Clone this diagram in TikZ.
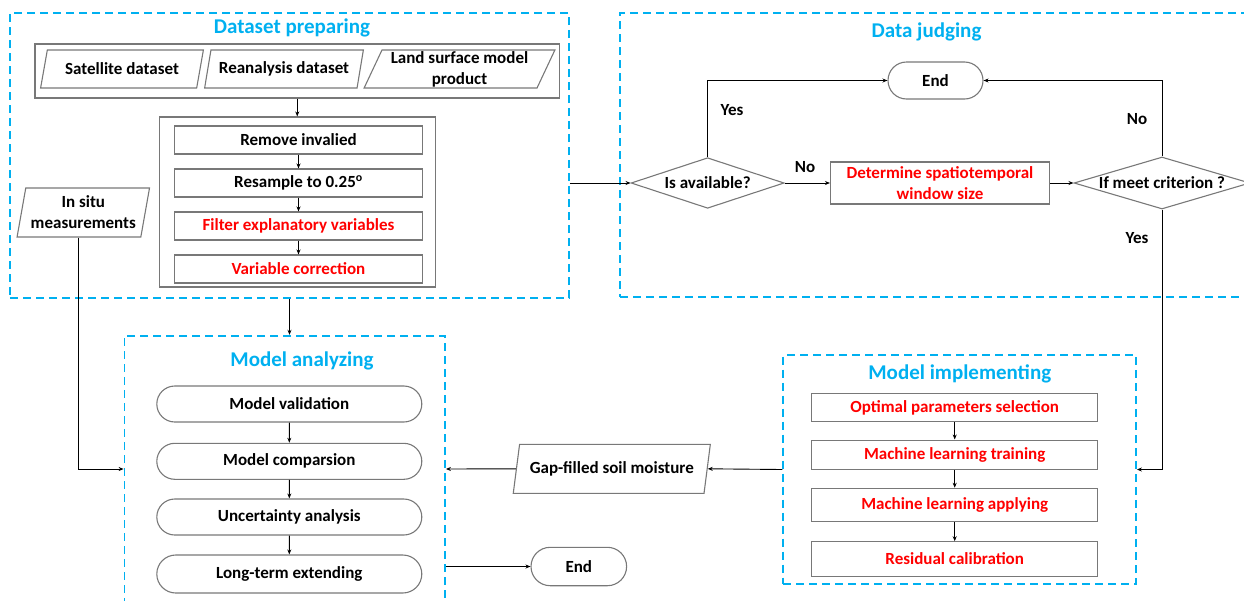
\documentclass[tikz,border=0pt]{standalone}
\usepackage{fontspec}
\setmainfont{Carlito}
\usetikzlibrary{shapes.geometric,shapes.misc,arrows.meta,calc}
\definecolor{titleblue}{RGB}{0,176,240}
\definecolor{hotred}{RGB}{255,0,0}
\definecolor{edgegray}{RGB}{120,120,120}
\tikzset{
  txt/.style={font=\fontsize{17}{21}\selectfont\bfseries},
  grp/.style={draw=titleblue, line width=1.8pt, dash pattern=on 8pt off 5pt, inner sep=0pt},
  grptitle/.style={text=titleblue, font=\fontsize{21}{25}\selectfont\bfseries},
  frame/.style={draw=edgegray, line width=1.1pt, inner sep=0pt},
  stepbox/.style={txt, draw=edgegray, line width=1.1pt, rectangle, inner sep=0pt, align=center},
  redstep/.style={stepbox, text=hotred},
  pill/.style={txt, draw=edgegray, line width=1.1pt, rounded rectangle, inner sep=0pt},
  para/.style={txt, draw=edgegray, line width=1.1pt, trapezium, trapezium stretches=true,
    trapezium left angle=#1, trapezium right angle=180-#1, inner sep=0pt, align=center},
  decision/.style={txt, draw=edgegray, line width=1.1pt, diamond, aspect=3.3, inner sep=0pt},
  link/.style={draw=black, line width=0.9pt, -{Stealth[length=5pt,width=4pt]}},
  lbl/.style={txt, inner sep=0pt}
}
\begin{document}
\begin{tikzpicture}[x=1pt, y=-1pt]
\useasboundingbox (0,0) rectangle (1244,600);
\clip (0,0) rectangle (1244,600);

% ---------- Dataset preparing ----------
\node[grp, minimum width=559, minimum height=285] (dp) at (289.5,155.5) {};
\node[grptitle] (dptitle) at (292,28) {Dataset preparing};
\node[frame, minimum width=524.5, minimum height=54] (inputs) at (297.25,71) {};
\node[para=67, minimum width=163, minimum height=38] (sat) at (122,69) {Satellite dataset};
\node[para=69, minimum width=159, minimum height=38] (rea) at (284,69) {Reanalysis dataset};
\node[para=66, minimum width=191, minimum height=38] (lsm) at (459.5,69) {Land surface model\\product};
\node[frame, minimum width=276, minimum height=170] (proc) at (297.5,202) {};
\node[stepbox, minimum width=248, minimum height=28] (rm) at (298.5,140) {Remove invalied};
\node[stepbox, minimum width=248, minimum height=28] (rs) at (298.5,183) {Resample to 0.25\textsuperscript{o}};
\node[redstep, minimum width=248, minimum height=28] (fe) at (298.5,226) {Filter explanatory variables};
\node[redstep, minimum width=248, minimum height=28] (vc) at (298.5,269) {Variable correction};
\node[para=76.5, minimum width=132.6, minimum height=49] (insitu) at (83.3,212.5) {In situ\\measurements};

\draw[link] (inputs.south) -- (inputs.south |- proc.north);
\draw[link] (rm) -- (rs);
\draw[link] (rs) -- (fe);
\draw[link] (fe) -- (vc);

% ---------- Data judging (its right side runs past the page edge) ----------
\node[grp, minimum width=634, minimum height=284] (dj) at (937,155) {};
\node[grptitle] (djtitle) at (926.5,32) {Data judging};
\node[pill, minimum width=95, minimum height=37] (endt) at (935.5,80.5) {End};
\node[decision, minimum width=153, minimum height=50.6] (avail) at (707.6,183) {Is available?};
\node[redstep, minimum width=219, minimum height=42] (win) at (940,183) {Determine spatiotemporal\\window size};
\node[decision, minimum width=176, minimum height=52] (crit) at (1162,183) {If meet criterion ?};

\draw[link] (dp.east |- avail.west) -- (avail.west);
\draw[link] (avail.north) |- (endt.west);
\draw[link] (avail.east) -- (win.west);
\draw[link] (win.east) -- (crit.west);
\draw[link] (crit.north) |- (endt.east);
\node[lbl] (yes1) at (732,110) {Yes};
\node[lbl] (no1) at (805,167) {No};
\node[lbl] (no2) at (1137,119.5) {No};
\node[lbl] (yes2) at (1137,238) {Yes};

% ---------- Model analyzing (its bottom runs past the page edge) ----------
\node[grp, minimum width=320.5, minimum height=266.6] (ma) at (284.75,469) {};
\node[grptitle] (matitle) at (302,361) {Model analyzing};
\node[pill, minimum width=265, minimum height=36] (val) at (289.3,404) {Model validation};
\node[pill, minimum width=265, minimum height=36] (cmp) at (289.3,461.3) {Model comparsion};
\node[pill, minimum width=265, minimum height=36] (unc) at (289.3,517) {Uncertainty analysis};
\node[pill, minimum width=265, minimum height=38] (ext) at (289.3,574) {Long-term extending};
\node[pill, minimum width=95.6, minimum height=38.4] (endb) at (578.8,566.5) {End};

\draw[link] (val) -- (cmp);
\draw[link] (cmp) -- (unc);
\draw[link] (unc) -- (ext);
\draw[link] (dp.south) -- (dp.south |- ma.north);
\draw[link] ($(insitu.bottom left corner)!0.5!(insitu.bottom right corner)$) |- (ma.west);
\draw[link] (ma.east |- endb.west) -- (endb.west);

% ---------- Model implementing ----------
\node[grp, minimum width=352.7, minimum height=229] (mi) at (959.65,469.5) {};
\node[grptitle] (mititle) at (959.8,374) {Model implementing};
\node[redstep, minimum width=286, minimum height=28] (opt) at (954.7,407.7) {Optimal parameters selection};
\node[redstep, minimum width=286, minimum height=29.3] (trn) at (954.7,454.7) {Machine learning training};
\node[redstep, minimum width=286, minimum height=33.4] (app) at (954.7,505) {Machine learning applying};
\node[redstep, minimum width=286, minimum height=34.3] (res) at (954.7,558.9) {Residual calibration};
\node[para=69, minimum width=197.6, minimum height=49] (gap) at (611.8,468.8) {Gap-filled soil moisture};

\draw[link] (opt) -- (trn);
\draw[link] (trn) -- (app);
\draw[link] (app) -- (res);
\draw[link] (crit.south) |- (mi.east);
\draw[link] (mi.west) -- (gap.east);
\draw[link] (gap.west) -- (ma.east);
\end{tikzpicture}
\end{document}
